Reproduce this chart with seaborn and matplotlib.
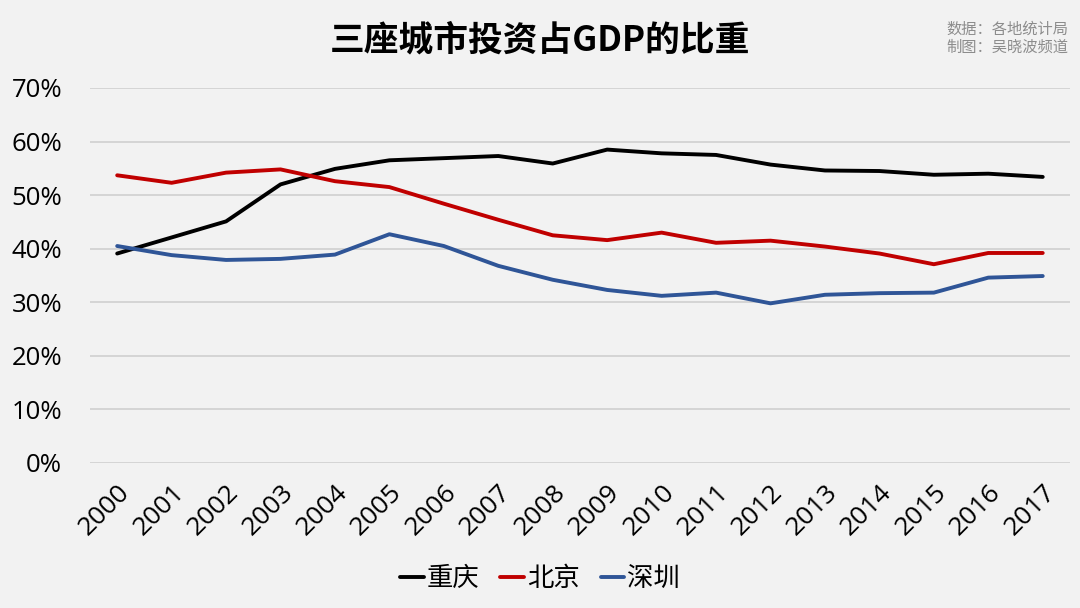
"""三座城市投资占GDP的比重 -- line chart of investment share of GDP, 2000-2017."""

import matplotlib

matplotlib.use("Agg")
import matplotlib.pyplot as plt
import pandas as pd
import seaborn as sns
from matplotlib.ticker import FuncFormatter

years = list(range(2000, 2018))
cities = ["重庆", "北京", "深圳"]
chongqing = [39.1, 42.1, 45.1, 52.0, 54.9, 56.5, 56.9, 57.3, 55.9,
             58.5, 57.8, 57.5, 55.7, 54.6, 54.5, 53.8, 54.0, 53.4]
beijing = [53.7, 52.3, 54.2, 54.8, 52.6, 51.5, 48.4, 45.4, 42.5,
           41.6, 43.0, 41.1, 41.5, 40.4, 39.1, 37.1, 39.2, 39.2]
shenzhen = [40.5, 38.8, 37.9, 38.1, 38.9, 42.7, 40.5, 36.8, 34.2,
            32.3, 31.2, 31.8, 29.8, 31.4, 31.7, 31.8, 34.6, 34.9]
colors = ["#000000", "#c00000", "#2f5597"]

BG = "#f2f2f2"
TICK_FONT = ["Open Sans", "Noto Sans CJK SC", "DejaVu Sans"]

df = pd.DataFrame({
    "year": years * 3,
    "city": [c for c in cities for _ in years],
    "share": chongqing + beijing + shenzhen,
})

sns.set_theme(style="white")
plt.rcParams["font.family"] = ["Noto Sans CJK SC", "DejaVu Sans"]
plt.rcParams["text.color"] = "black"
plt.rcParams["xtick.color"] = "black"
plt.rcParams["ytick.color"] = "black"

fig = plt.figure(figsize=(10.8, 6.08), dpi=100, facecolor=BG)
ax = fig.add_axes([0.0833, 0.2385, 0.9074, 0.6168], facecolor=BG)

sns.lineplot(data=df, x="year", y="share", hue="city", hue_order=cities,
             palette=colors, linewidth=2.8, ax=ax, legend=False)

ax.set_xlim(1999.5, 2017.5)
ax.set_ylim(0, 70)
ax.set_yticks(range(0, 71, 10))
ax.yaxis.set_major_formatter(FuncFormatter(lambda v, _: f"{v:.0f}%"))
ax.set_xticks(years)
ax.set_xticklabels([str(y) for y in years], rotation=45, ha="right",
                   rotation_mode="anchor")
for lab in ax.get_xticklabels() + ax.get_yticklabels():
    lab.set_family(TICK_FONT)
ax.tick_params(axis="x", labelsize=19, pad=12, length=0)
ax.tick_params(axis="y", labelsize=18.5, pad=20, length=0)
ax.set_xlabel("")
ax.set_ylabel("")
ax.grid(axis="y", color="#d0d0d0", linewidth=1.2)
ax.set_axisbelow(True)
for s in ax.spines.values():
    s.set_visible(False)

handles = [plt.Line2D([], [], color=c, linewidth=2.8) for c in colors]
fig.legend(handles, cities, loc="center", bbox_to_anchor=(0.5, 0.048), ncol=3,
           frameon=False, fontsize=19, handlelength=0.9, handletextpad=0.1,
           columnspacing=0.8)

fig.text(0.5, 0.935, "三座城市投资占GDP的比重", ha="center", va="center",
         fontsize=25, fontweight="bold")
fig.text(0.989, 0.952, "数据：各地统计局", ha="right", va="center",
         fontsize=11, color="#8c8c8c")
fig.text(0.989, 0.922, "制图：吴晓波频道", ha="right", va="center",
         fontsize=11, color="#8c8c8c")

fig.savefig("out.png", dpi=100, facecolor=BG)
plt.close(fig)
